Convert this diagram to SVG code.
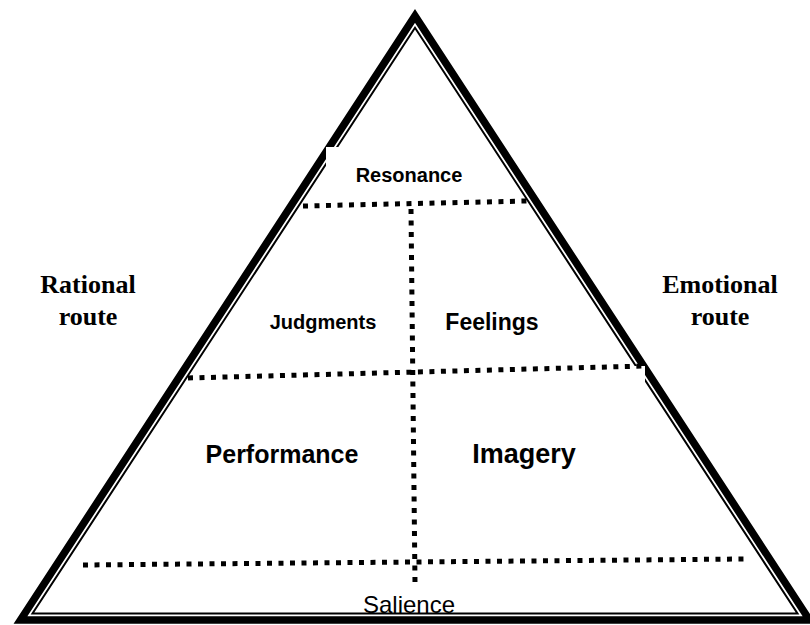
<svg xmlns="http://www.w3.org/2000/svg" width="810" height="625" viewBox="0 0 810 625">
  <style>
    .thick { fill: none; stroke: #000; stroke-width: 7.5; stroke-linejoin: miter; stroke-miterlimit: 10; }
    .thin { fill: none; stroke: #000; stroke-width: 2; stroke-linejoin: miter; stroke-miterlimit: 10; }
    .dot { fill: none; stroke: #000; stroke-width: 5; stroke-dasharray: 5 6.5; }
    .lbl { font-family: "Liberation Sans", Arial, sans-serif; font-weight: bold; text-anchor: middle; fill: #000; }
    .reg { font-family: "Liberation Sans", Arial, sans-serif; text-anchor: middle; fill: #000; }
    .side { font-family: "Liberation Serif", "Times New Roman", serif; font-weight: bold; text-anchor: middle; fill: #000; }
  </style>
  <rect width="810" height="625" fill="#fff"/>
  <g id="pyramid">
    <polygon class="thick" points="415,15.9 20.5,620 809.5,620"/>
    <polygon class="thin" points="415,27.8 32.5,613.5 797.5,613.5"/>
    <rect x="326" y="147" width="166" height="50" fill="#fff"/>
    <rect x="430" y="366" width="215" height="30" fill="#fff"/>
  </g>
  <g id="connectors">
    <line class="dot" x1="411" y1="209" x2="415" y2="583"/>
    <line class="dot" x1="303" y1="206" x2="527" y2="201"/>
    <line class="dot" x1="188" y1="378" x2="645" y2="366"/>
    <line class="dot" x1="83" y1="565" x2="745" y2="559"/>
  </g>
  <g id="resonance"><text class="lbl" x="409" y="182" font-size="20">Resonance</text></g>
  <g id="judgments"><text class="lbl" x="323" y="329" font-size="20">Judgments</text></g>
  <g id="feelings"><text class="lbl" x="492" y="330" font-size="23">Feelings</text></g>
  <g id="performance"><text class="lbl" x="282" y="463" font-size="25">Performance</text></g>
  <g id="imagery"><text class="lbl" x="524" y="463" font-size="27">Imagery</text></g>
  <g id="salience"><text class="reg" x="409" y="613" font-size="24">Salience</text></g>
  <g id="rational"><text class="side" x="88" y="293" font-size="26">Rational</text><text class="side" x="88" y="325" font-size="26">route</text></g>
  <g id="emotional"><text class="side" x="720" y="293" font-size="26">Emotional</text><text class="side" x="720" y="325" font-size="26">route</text></g>
</svg>
